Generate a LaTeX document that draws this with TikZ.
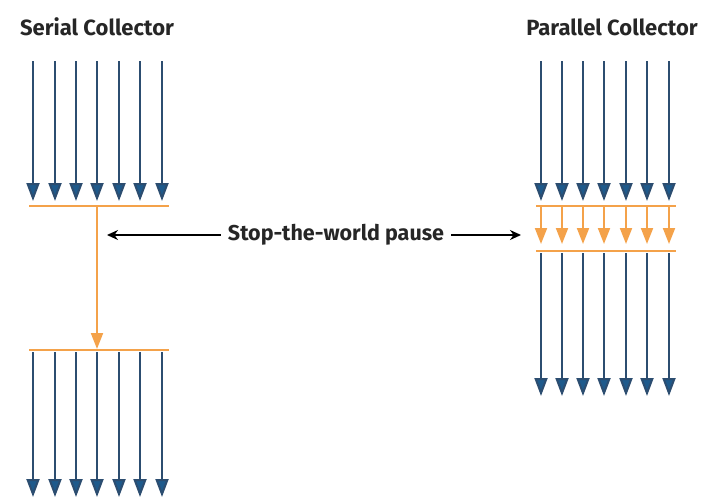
\documentclass[tikz,border=0pt]{standalone}
\usepackage{fontspec}
\setmainfont{Fira Sans}
\usetikzlibrary{arrows.meta}
\definecolor{laneblue}{HTML}{2C4D70}
\definecolor{tipblue}{HTML}{1E5A8C}
\definecolor{gcorange}{HTML}{F4A24A}
\begin{document}
\begin{tikzpicture}[x=1pt,y=-1pt,
  lane/.style={draw=laneblue,line width=2pt,-{Triangle[length=18pt,width=13pt,fill=tipblue]}},
  gcline/.style={draw=gcorange,line width=2pt},
  gcarrow/.style={draw=gcorange,line width=2pt,-{Triangle[length=16pt,width=12pt,fill=gcorange]}},
  pausearrow/.style={draw=black,line width=1.6pt,-{Stealth[length=11pt,width=10pt]}},
  title/.style={font=\fontsize{22}{26}\selectfont\bfseries,text=black!85,inner sep=0pt}]
\useasboundingbox (0,0) rectangle (726,501);
% titles
\node[title] (st) at (97,27) {Serial Collector};
\node[title] (pt) at (612,27) {Parallel Collector};
% serial collector
\coordinate (sl1a) at (29,206); \coordinate (sl1b) at (169,206);
\coordinate (sl2a) at (29,350); \coordinate (sl2b) at (169,350);
\draw[gcline] (sl1a) -- (sl1b);
\draw[gcline] (sl2a) -- (sl2b);
\foreach \i/\x in {1/33,2/55,3/76,4/97,5/119,6/140,7/162}{
  \coordinate (sa\i) at (\x,61);
  \coordinate (sb\i) at (\x,201);
  \coordinate (sc\i) at (\x,352);
  \coordinate (sd\i) at (\x,497);
  \draw[lane] (sa\i) -- (sb\i);
  \draw[lane] (sc\i) -- (sd\i);
}
\coordinate (sgcs) at (97,206); \coordinate (sgce) at (97,349);
\draw[gcarrow] (sgcs) -- (sgce);
% parallel collector
\coordinate (pl1a) at (536,206); \coordinate (pl1b) at (676,206);
\coordinate (pl2a) at (536,251); \coordinate (pl2b) at (676,251);
\draw[gcline] (pl1a) -- (pl1b);
\draw[gcline] (pl2a) -- (pl2b);
\foreach \i/\x in {1/541,2/562,3/583,4/604,5/626,6/647,7/669}{
  \coordinate (pa\i) at (\x,61);
  \coordinate (pb\i) at (\x,201);
  \coordinate (pc\i) at (\x,207);
  \coordinate (pd\i) at (\x,244);
  \coordinate (pe\i) at (\x,253);
  \coordinate (pf\i) at (\x,396);
  \draw[lane] (pa\i) -- (pb\i);
  \draw[gcarrow] (pc\i) -- (pd\i);
  \draw[lane] (pe\i) -- (pf\i);
}
% pause label
\node[font=\fontsize{21.5}{25}\selectfont\bfseries,text=black!85,inner sep=0pt] (pause) at (336,235) {Stop-the-world pause};
\coordinate (pl) at (107,235);
\coordinate (pr) at (521,235);
\draw[pausearrow] ([xshift=-7pt]pause.west) -- (pl);
\draw[pausearrow] ([xshift=7pt]pause.east) -- (pr);
\end{tikzpicture}
\end{document}
